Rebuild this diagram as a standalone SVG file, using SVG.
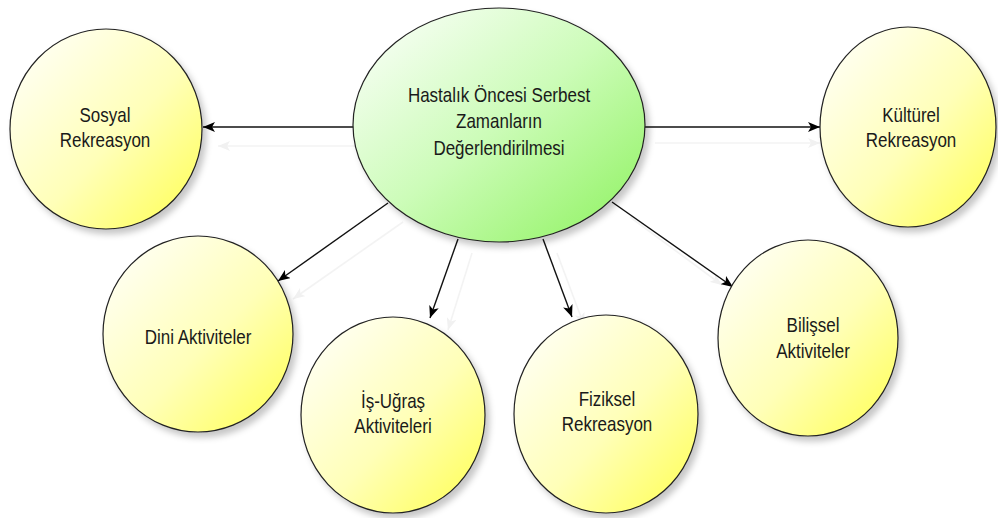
<svg xmlns="http://www.w3.org/2000/svg" width="998" height="518" viewBox="0 0 998 518">
  <defs>
    <linearGradient id="gYellow" x1="0" y1="0" x2="1" y2="1">
      <stop offset="0" stop-color="#ffffff"/>
      <stop offset="0.55" stop-color="#ffffb8"/>
      <stop offset="1" stop-color="#ffff4d"/>
    </linearGradient>
    <linearGradient id="gGreen" x1="0" y1="0" x2="1" y2="1">
      <stop offset="0" stop-color="#ffffff"/>
      <stop offset="0.5" stop-color="#ccfcb8"/>
      <stop offset="1" stop-color="#8cf25c"/>
    </linearGradient>
    <filter id="softShadow" x="-20%" y="-20%" width="150%" height="150%">
      <feGaussianBlur in="SourceAlpha" stdDeviation="3"/>
      <feOffset dx="4" dy="5" result="b"/>
      <feFlood flood-color="#000" flood-opacity="0.22"/>
      <feComposite in2="b" operator="in"/>
      <feMerge>
        <feMergeNode/>
        <feMergeNode in="SourceGraphic"/>
      </feMerge>
    </filter>
    <marker id="arrow" viewBox="0 0 12 10" refX="12" refY="5" markerWidth="12" markerHeight="10" markerUnits="userSpaceOnUse" orient="auto">
      <path d="M0,0 L12,5 L0,10 L3,5 Z" fill="#000"/>
    </marker>
    <marker id="arrowGhost" viewBox="0 0 12 10" refX="12" refY="5" markerWidth="12" markerHeight="10" markerUnits="userSpaceOnUse" orient="auto">
      <path d="M0,0 L12,5 L0,10 L3,5 Z" fill="#f1f1f1"/>
    </marker>
    <style>
      .node { stroke: #222; stroke-width: 1.2; filter: url(#softShadow); }
      .leaf { fill: url(#gYellow); }
      .hub { fill: url(#gGreen); }
      .edge { fill: none; stroke: #111; stroke-width: 1.4; marker-end: url(#arrow); }
      .ghost { fill: none; stroke: #f3f3f3; stroke-width: 1.6; marker-end: url(#arrowGhost); }
      text { font-family: "Liberation Sans", Arial, sans-serif; font-size: 20px; fill: #1a1a1a; text-anchor: middle; }
    </style>
  </defs>

  <rect width="998" height="518" fill="#ffffff"/>

  <!-- faint offset copies of the connectors -->
  <g id="connector-shadows">
    <line class="ghost" x1="355" y1="146" x2="218" y2="146"/>
    <line class="ghost" x1="655" y1="143" x2="820" y2="143"/>
    <line class="ghost" x1="403" y1="222" x2="293" y2="299"/>
    <line class="ghost" x1="472" y1="253" x2="448" y2="330"/>
    <line class="ghost" x1="557" y1="253" x2="584" y2="325"/>
    <line class="ghost" x1="630" y1="217" x2="722" y2="285"/>
  </g>

  <g id="connectors">
    <line class="edge" x1="355" y1="127" x2="203" y2="127"/>
    <line class="edge" x1="645" y1="127" x2="820" y2="127"/>
    <line class="edge" x1="388" y1="203" x2="278" y2="281"/>
    <line class="edge" x1="458" y1="239" x2="430" y2="318"/>
    <line class="edge" x1="543" y1="239" x2="572" y2="317"/>
    <line class="edge" x1="612" y1="202" x2="733" y2="287"/>
  </g>

  <g id="hub">
    <ellipse class="node hub" cx="499" cy="125" rx="146" ry="117"/>
    <g transform="translate(499,0) scale(0.85,1)">
      <text x="0" y="102">Hastalık Öncesi Serbest</text>
      <text x="0" y="128">Zamanların</text>
      <text x="0" y="155">Değerlendirilmesi</text>
    </g>
  </g>

  <g id="sosyal">
    <ellipse class="node leaf" cx="106" cy="129" rx="96" ry="100"/>
    <g transform="translate(105,0) scale(0.85,1)">
      <text x="0" y="122">Sosyal</text>
      <text x="0" y="147">Rekreasyon</text>
    </g>
  </g>

  <g id="kulturel">
    <ellipse class="node leaf" cx="908" cy="127" rx="88" ry="100"/>
    <g transform="translate(911,0) scale(0.85,1)">
      <text x="0" y="122">Kültürel</text>
      <text x="0" y="147">Rekreasyon</text>
    </g>
  </g>

  <g id="dini">
    <ellipse class="node leaf" cx="198" cy="334" rx="95" ry="98"/>
    <g transform="translate(198,0) scale(0.85,1)">
      <text x="0" y="344">Dini Aktiviteler</text>
    </g>
  </g>

  <g id="is-ugras">
    <ellipse class="node leaf" cx="393" cy="415" rx="92" ry="98"/>
    <g transform="translate(393,0) scale(0.85,1)">
      <text x="0" y="408">İş-Uğraş</text>
      <text x="0" y="433">Aktiviteleri</text>
    </g>
  </g>

  <g id="fiziksel">
    <ellipse class="node leaf" cx="606" cy="414" rx="92" ry="99"/>
    <g transform="translate(607,0) scale(0.85,1)">
      <text x="0" y="406">Fiziksel</text>
      <text x="0" y="431">Rekreasyon</text>
    </g>
  </g>

  <g id="bilissel">
    <ellipse class="node leaf" cx="808" cy="338" rx="90" ry="98"/>
    <g transform="translate(813,0) scale(0.85,1)">
      <text x="0" y="332">Bilişsel</text>
      <text x="0" y="358">Aktiviteler</text>
    </g>
  </g>
</svg>
